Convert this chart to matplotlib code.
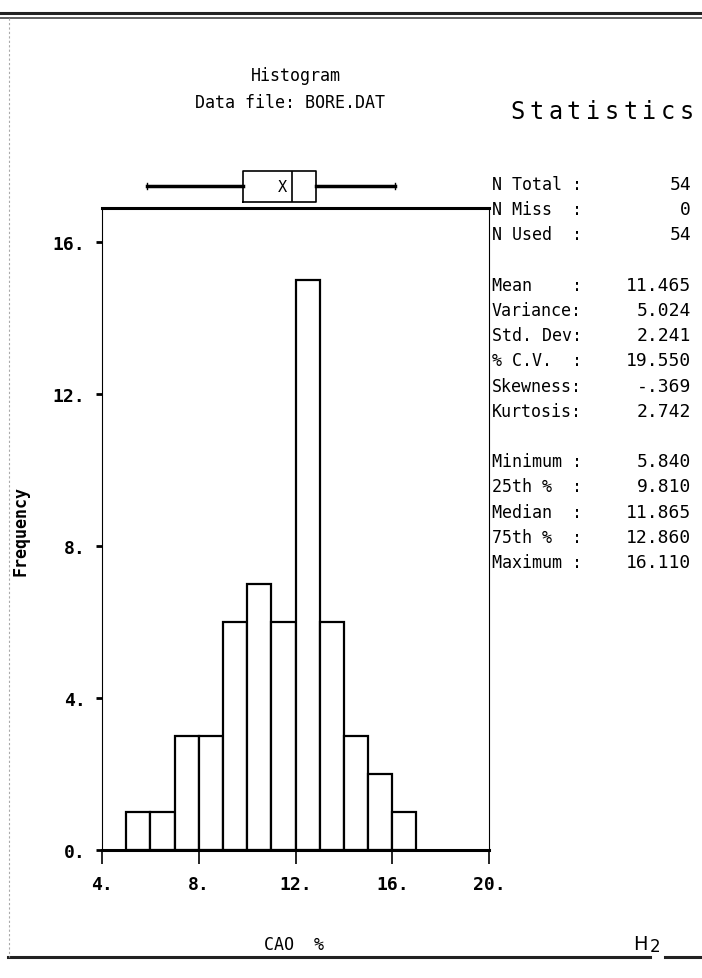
import matplotlib
matplotlib.use('Agg')
import matplotlib.pyplot as plt
import numpy as np

# Histogram data (CAO %), bin edges and counts
bin_edges = [5, 6, 7, 8, 9, 10, 11, 12, 13, 14, 15, 16, 17]
counts = [1, 1, 3, 3, 6, 7, 6, 15, 6, 3, 2, 1]

# Box plot summary
box_min = 5.840
box_q1 = 9.810
box_med = 11.865
box_q3 = 12.860
box_max = 16.110
box_mean = 11.465

# Statistics table
stat_labels = ['N Total', 'N Miss', 'N Used', '', 'Mean', 'Variance', 'Std. Dev',
               '% C.V.', 'Skewness', 'Kurtosis', '', 'Minimum', '25th %',
               'Median', '75th %', 'Maximum']
stat_values = ['54', '0', '54', '', '11.465', '5.024', '2.241', '19.550',
               '-.369', '2.742', '', '5.840', '9.810', '11.865', '12.860', '16.110']

xticks = [4, 8, 12, 16, 20]
yticks = [0, 4, 8, 12, 16]

W, H = 702, 979
fig = plt.figure(figsize=(W / 100, H / 100), dpi=100)
mono = 'DejaVu Sans Mono'

def fx(px):
    return px / W

def fy(py):
    return 1 - py / H

# main histogram axes
ax = fig.add_axes([fx(102), fy(851), fx(489) - fx(102), fy(209) - fy(851)])
widths = np.diff(bin_edges)
ax.bar(bin_edges[:-1], counts, width=widths, align='edge', color='white',
       edgecolor='black', linewidth=1.6, zorder=2)
ax.set_xlim(4, 20)
ax.set_ylim(0, 16.9)
ax.spines['top'].set_linewidth(2.2)
ax.spines['bottom'].set_linewidth(2.2)
ax.spines['left'].set_linewidth(0.8)
ax.spines['right'].set_linewidth(0.8)
ax.spines['left'].set_linestyle((0, (2, 1)))
ax.spines['right'].set_linestyle((0, (2, 1)))
ax.set_xticks(xticks)
ax.set_xticklabels([f'{v}.' for v in xticks], fontfamily=mono,
                   fontweight='bold', fontsize=13)
ax.set_yticks(yticks)
ax.set_yticklabels([f'{v}.' for v in yticks], fontfamily=mono,
                   fontweight='bold', fontsize=13)
ax.tick_params(axis='x', direction='out', length=10, width=1.2, pad=8)
ax.tick_params(axis='y', direction='out', length=4, width=2, pad=8)

# box plot strip above
bax = fig.add_axes([fx(102), fy(212), fx(489) - fx(102), fy(162) - fy(212)],
                   sharex=ax)
stats = [dict(whislo=box_min, q1=box_q1, med=box_med, q3=box_q3,
              whishi=box_max, mean=box_mean, fliers=[])]
bax.bxp(stats, vert=False, widths=0.62, showmeans=False, showfliers=False,
        boxprops=dict(color='black', linewidth=1.2),
        whiskerprops=dict(color='black', linewidth=2.5),
        capprops=dict(color='black', linewidth=1.0),
        medianprops=dict(color='black', linewidth=1.2),
        capwidths=0.12)
bax.text(box_mean, 1, 'X', ha='center', va='center', fontfamily=mono,
         fontsize=11)
bax.set_ylim(0.5, 1.5)
bax.axis('off')
ax.set_xlim(4, 20)

# titles
fig.text(fx(296), fy(76), 'Histogram', ha='center', va='center',
         fontfamily=mono, fontsize=12)
fig.text(fx(290), fy(103), 'Data file: BORE.DAT', ha='center', va='center',
         fontfamily=mono, fontsize=12)
for i, ch in enumerate('Statistics'):
    fig.text(fx(518 + i * 18.7), fy(112), ch, ha='center', va='center',
             fontfamily=mono, fontsize=17)

# statistics table
row_y = 185
for lab, val in zip(stat_labels, stat_values):
    if lab:
        fig.text(fx(492), fy(row_y), lab.ljust(8) + ':', ha='left', va='center',
                 fontfamily=mono, fontsize=12)
        fig.text(fx(691), fy(row_y), val, ha='right', va='center',
                 fontfamily=mono, fontsize=13)
    row_y += 25.2

# axis labels
fig.text(fx(21), fy(531), 'Frequency', rotation=90, ha='center', va='center',
         fontfamily=mono, fontweight='bold', fontsize=12)
fig.text(fx(294), fy(945), 'CAO  %', ha='center', va='center',
         fontfamily=mono, fontsize=12)
fig.text(fx(648), fy(945), 'H', ha='right', va='center',
         fontfamily='DejaVu Sans', fontsize=14)
fig.text(fx(650), fy(947), '2', ha='left', va='center',
         fontfamily='DejaVu Sans', fontsize=12)

# page frame lines
fig.add_artist(plt.Line2D([0, 1], [fy(14), fy(14)], color='#222222', lw=2.2))
fig.add_artist(plt.Line2D([0, 1], [fy(19), fy(19)], color='#444444', lw=1.2))
fig.add_artist(plt.Line2D([fx(8), fx(650)], [fy(958), fy(958)],
                          color='#222222', lw=2.2))
fig.add_artist(plt.Line2D([fx(665), 1], [fy(958), fy(958)],
                          color='#222222', lw=2.2))
fig.add_artist(plt.Line2D([fx(9), fx(9)], [fy(19), fy(958)],
                          color='#aaaaaa', lw=0.8, ls=(0, (2, 2))))

fig.savefig('out.png', dpi=100)
